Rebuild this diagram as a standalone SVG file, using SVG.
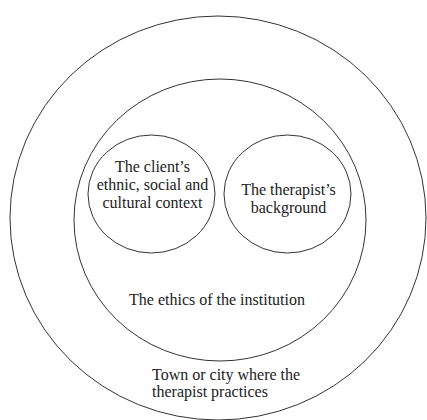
<svg xmlns="http://www.w3.org/2000/svg" width="427" height="420" viewBox="0 0 427 420">
<style>
.c{fill:none;stroke:#333;stroke-width:1}
.t{font-family:"Liberation Serif","Times New Roman",serif;font-size:16px;fill:#222}
.m{text-anchor:middle}
</style>
<rect width="427" height="420" fill="#fff"/>
<g id="town">
<ellipse class="c" cx="218" cy="218" rx="208" ry="202"/>
<text class="t" x="152" y="380">Town or city where the</text>
<text class="t" x="152" y="397">therapist practices</text>
</g>
<g id="institution">
<ellipse class="c" cx="220" cy="220" rx="146" ry="141"/>
<text class="t m" x="217" y="305">The ethics of the institution</text>
</g>
<g id="client">
<ellipse class="c" cx="151.5" cy="194" rx="63.5" ry="59"/>
<text class="t m" x="152.5" y="172">The client’s</text>
<text class="t m" x="152.5" y="190">ethnic, social and</text>
<text class="t m" x="152.5" y="208">cultural context</text>
</g>
<g id="therapist">
<ellipse class="c" cx="287.5" cy="194" rx="63.5" ry="59"/>
<text class="t m" x="288.5" y="195">The therapist’s</text>
<text class="t m" x="288.5" y="213">background</text>
</g>
<g id="connectors"></g>
</svg>
